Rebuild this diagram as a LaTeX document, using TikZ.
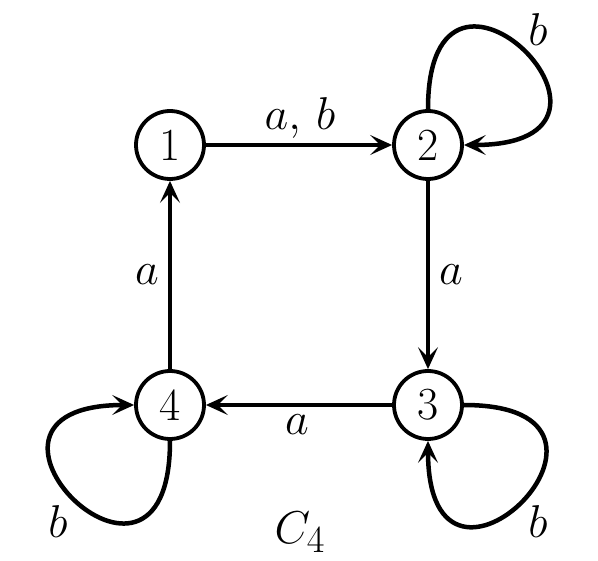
\documentclass[tikz,border=0pt]{standalone}
\usetikzlibrary{arrows.meta}
\begin{document}
\begin{tikzpicture}[x=1pt,y=-1pt,
  every node/.style={font=\fontsize{46}{52}\selectfont},
  state/.style={circle,draw,line width=3.8pt,minimum size=68pt,inner sep=0pt},
  edge/.style={line width=4.5pt,-{Stealth[length=22pt,width=20pt,inset=10pt]}},
  lbl/.style={inner sep=0pt,font=\Huge,scale=1.85,transform shape}]
\useasboundingbox (0,0) rectangle (598,561);
\node[state] (n1) at (170,145) {1};
\node[state] (n2) at (428,145) {2};
\node[state] (n3) at (428,405) {3};
\node[state] (n4) at (170,405) {4};
\draw[edge] (n1) -- (n2);
\draw[edge] (n2) -- (n3);
\draw[edge] (n3) -- (n4);
\draw[edge] (n4) -- (n1);
\draw[edge] (n2.north) .. controls +(0,-205) and +(205,0) .. (n2.east);
\draw[edge] (n3.east) .. controls +(205,0) and +(0,205) .. (n3.south);
\draw[edge] (n4.south) .. controls +(0,205) and +(-205,0) .. (n4.west);
\node[lbl] (l12) at (300,118) {$a,\,b$};
\node[lbl] (l23) at (451,275) {$a$};
\node[lbl] (l34) at (297,425) {$a$};
\node[lbl] (l41) at (147,275) {$a$};
\node[lbl] (lb2) at (538,30) {$b$};
\node[lbl] (lb3) at (538,522) {$b$};
\node[lbl] (lb4) at (58,522) {$b$};
\node[lbl] (c4) at (300,532) {$C_4$};
\end{tikzpicture}
\end{document}
